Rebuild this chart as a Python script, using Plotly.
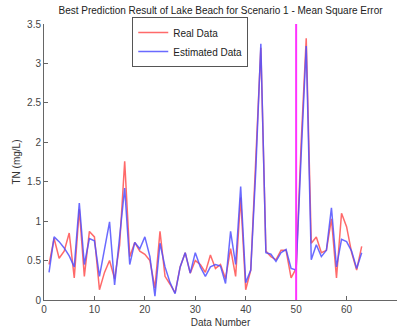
import plotly.graph_objects as go

# TN concentration per sample: measured vs. model estimate
data_number = list(range(1, 64))
real_data = [
    0.45, 0.78, 0.53, 0.62, 0.85, 0.28, 1.15, 0.30, 0.87, 0.80,
    0.13, 0.35, 0.50, 0.27, 0.70, 1.76, 0.55, 0.73, 0.62, 0.58,
    0.50, 0.15, 0.87, 0.30, 0.20, 0.09, 0.42, 0.60, 0.34, 0.50,
    0.45, 0.35, 0.57, 0.40, 0.45, 0.27, 0.65, 0.30, 1.30, 0.13,
    0.38, 1.75, 3.20, 0.62, 0.55, 0.51, 0.63, 0.63, 0.28, 0.40,
    2.00, 3.32, 0.72, 0.80, 0.60, 0.63, 1.03, 0.28, 1.10, 0.93,
    0.60, 0.38, 0.68,
]
estimated_data = [
    0.35, 0.80, 0.74, 0.66, 0.56, 0.42, 1.23, 0.45, 0.78, 0.75,
    0.30, 0.64, 0.99, 0.19, 0.80, 1.42, 0.45, 0.73, 0.65, 0.80,
    0.55, 0.05, 0.72, 0.42, 0.22, 0.08, 0.42, 0.60, 0.34, 0.60,
    0.42, 0.30, 0.42, 0.45, 0.43, 0.21, 0.87, 0.45, 1.44, 0.22,
    0.38, 1.65, 3.25, 0.60, 0.58, 0.49, 0.60, 0.64, 0.40, 0.38,
    1.85, 3.22, 0.51, 0.70, 0.55, 0.63, 1.17, 0.42, 0.77, 0.74,
    0.62, 0.40, 0.60,
]
split_index = 50
x_ticks = [0, 10, 20, 30, 40, 50, 60, 70]
y_ticks = [0, 0.5, 1, 1.5, 2, 2.5, 3, 3.5]

FONT = "Liberation Sans, Arial, sans-serif"

fig = go.Figure()
fig.add_trace(go.Scatter(
    x=data_number, y=real_data, mode="lines", name="Real Data",
    line=dict(color="rgba(255,80,80,0.85)", width=1.5),
))
fig.add_trace(go.Scatter(
    x=data_number, y=estimated_data, mode="lines", name="Estimated Data",
    line=dict(color="rgba(80,80,255,0.85)", width=1.5),
))
fig.add_vline(x=split_index, line=dict(color="#ff33ff", width=2))

axis_common = dict(
    showline=True, linecolor="#666", linewidth=1,
    ticks="inside", ticklen=4, tickcolor="#666",
    showgrid=False, zeroline=False, mirror=False,
    tickfont=dict(family=FONT, size=10, color="#444"),
)

fig.update_layout(
    width=402, height=336,
    margin=dict(l=44, r=5, t=24, b=36),
    paper_bgcolor="white", plot_bgcolor="white",
    title=dict(
        text="Best Prediction Result of Lake Beach for Scenario 1 - Mean Square Error",
        x=0.5486, xanchor="center", y=0.97, yanchor="middle",
        font=dict(family=FONT, size=10, color="#222"),
    ),
    xaxis=dict(
        range=[0, 70], tickvals=x_ticks,
        title=dict(text="Data Number", standoff=4,
                   font=dict(family=FONT, size=10, color="#333")),
        **axis_common,
    ),
    yaxis=dict(
        range=[0, 3.5], tickvals=y_ticks,
        title=dict(text="TN (mg/L)", standoff=4,
                   font=dict(family=FONT, size=10, color="#333")),
        **axis_common,
    ),
    legend=dict(
        x=0.25, y=1.025, xanchor="left", yanchor="top",
        bgcolor="white", bordercolor="#555", borderwidth=1,
        font=dict(family=FONT, size=10, color="#222"),
        tracegroupgap=0,
    ),
    showlegend=True,
)

fig.write_html("out.html")
